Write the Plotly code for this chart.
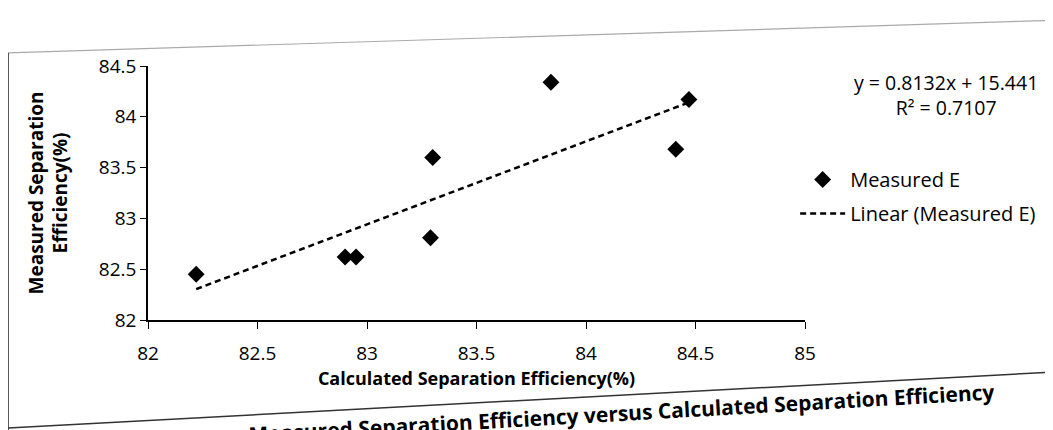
import numpy as np
import plotly.graph_objects as go

# Data
calc_eff = [82.22, 82.90, 82.95, 83.29, 83.30, 83.84, 84.41, 84.47]
meas_eff = [82.45, 82.62, 82.62, 82.81, 83.60, 84.34, 83.68, 84.17]
x_ticks = [82, 82.5, 83, 83.5, 84, 84.5, 85]
x_tick_text = ["82", "82.5", "83", "83.5", "84", "84.5", "85"]
y_ticks = [82, 82.5, 83, 83.5, 84, 84.5]
y_tick_text = ["82", "82.5", "83", "83.5", "84", "84.5"]
eq_text = "y = 0.8132x + 15.441<br>R² = 0.7107"
caption = "Measured Separation Efficiency versus Calculated Separation Efficiency"

slope, intercept = np.polyfit(calc_eff, meas_eff, 1)
trend_x = [min(calc_eff), max(calc_eff)]
trend_y = [slope * v + intercept for v in trend_x]

FONT = "'Open Sans', sans-serif"

fig = go.Figure()
fig.add_trace(go.Scatter(
    x=calc_eff, y=meas_eff, mode="markers", name="Measured E", legendgroup="a",
    marker=dict(symbol="diamond", size=13, color="black"),
))
fig.add_trace(go.Scatter(
    x=trend_x, y=trend_y, mode="lines", name="Linear (Measured E)", legendgroup="b",
    line=dict(color="black", width=2.5, dash="6px,4px"),
))

fig.update_layout(
    width=1053, height=430,
    margin=dict(l=140, r=256, t=58, b=118),
    paper_bgcolor="white", plot_bgcolor="white",
    font=dict(family=FONT, color="#000", size=18),
    showlegend=True,
    legend=dict(x=0.985, y=0.63, xanchor="left", yanchor="top",
                font=dict(size=20, family=FONT), bgcolor="rgba(0,0,0,0)",
                itemwidth=45, tracegroupgap=5),
    xaxis=dict(range=[82, 85], tickvals=x_ticks, ticktext=x_tick_text,
               showgrid=False, zeroline=False, showline=True, linecolor="black",
               linewidth=1.5, ticks="outside", ticklen=7, tickcolor="black",
               ticklabelstandoff=8, automargin=False,
               tickfont=dict(size=19, family=FONT),
               title=dict(text="<b>Calculated Separation Efficiency(%)</b>",
                          font=dict(size=18, family=FONT), standoff=6)),
    yaxis=dict(range=[82, 84.5], tickvals=y_ticks, ticktext=y_tick_text,
               showgrid=False, zeroline=False, showline=True, linecolor="black",
               linewidth=1.5, ticks="outside", ticklen=6, tickcolor="black",
               automargin=False,
               tickfont=dict(size=19, family=FONT),
               title=dict(text="<b>Measured Separation<br>Efficiency(%)</b>",
                          font=dict(size=19, family=FONT), standoff=26)),
)

fig.add_annotation(text=eq_text, xref="paper", yref="paper", x=1.215, y=0.884,
                   xanchor="center", yanchor="middle", align="center", showarrow=False,
                   font=dict(size=19.5, family=FONT))

# page frame lines of the scanned figure
fig.add_shape(type="line", xref="paper", yref="paper", x0=-0.2177, x1=1.3775,
              y0=1.051, y1=1.18, line=dict(color="#aaa", width=1.2))
fig.add_shape(type="line", xref="paper", yref="paper", x0=-0.213, x1=-0.213,
              y0=1.051, y1=-0.45, line=dict(color="#333", width=1.5))
fig.add_shape(type="line", xref="paper", yref="paper", x0=-0.213, x1=1.3775,
              y0=-0.425, y1=-0.205, line=dict(color="#333", width=1.5))

fig.add_annotation(text="<b>" + caption + "</b>",
                   xref="paper", yref="paper", x=0.72, y=-0.365, textangle=-3.3,
                   xanchor="center", yanchor="middle",
                   showarrow=False, font=dict(size=21, family=FONT))

fig.write_html("out.html")
